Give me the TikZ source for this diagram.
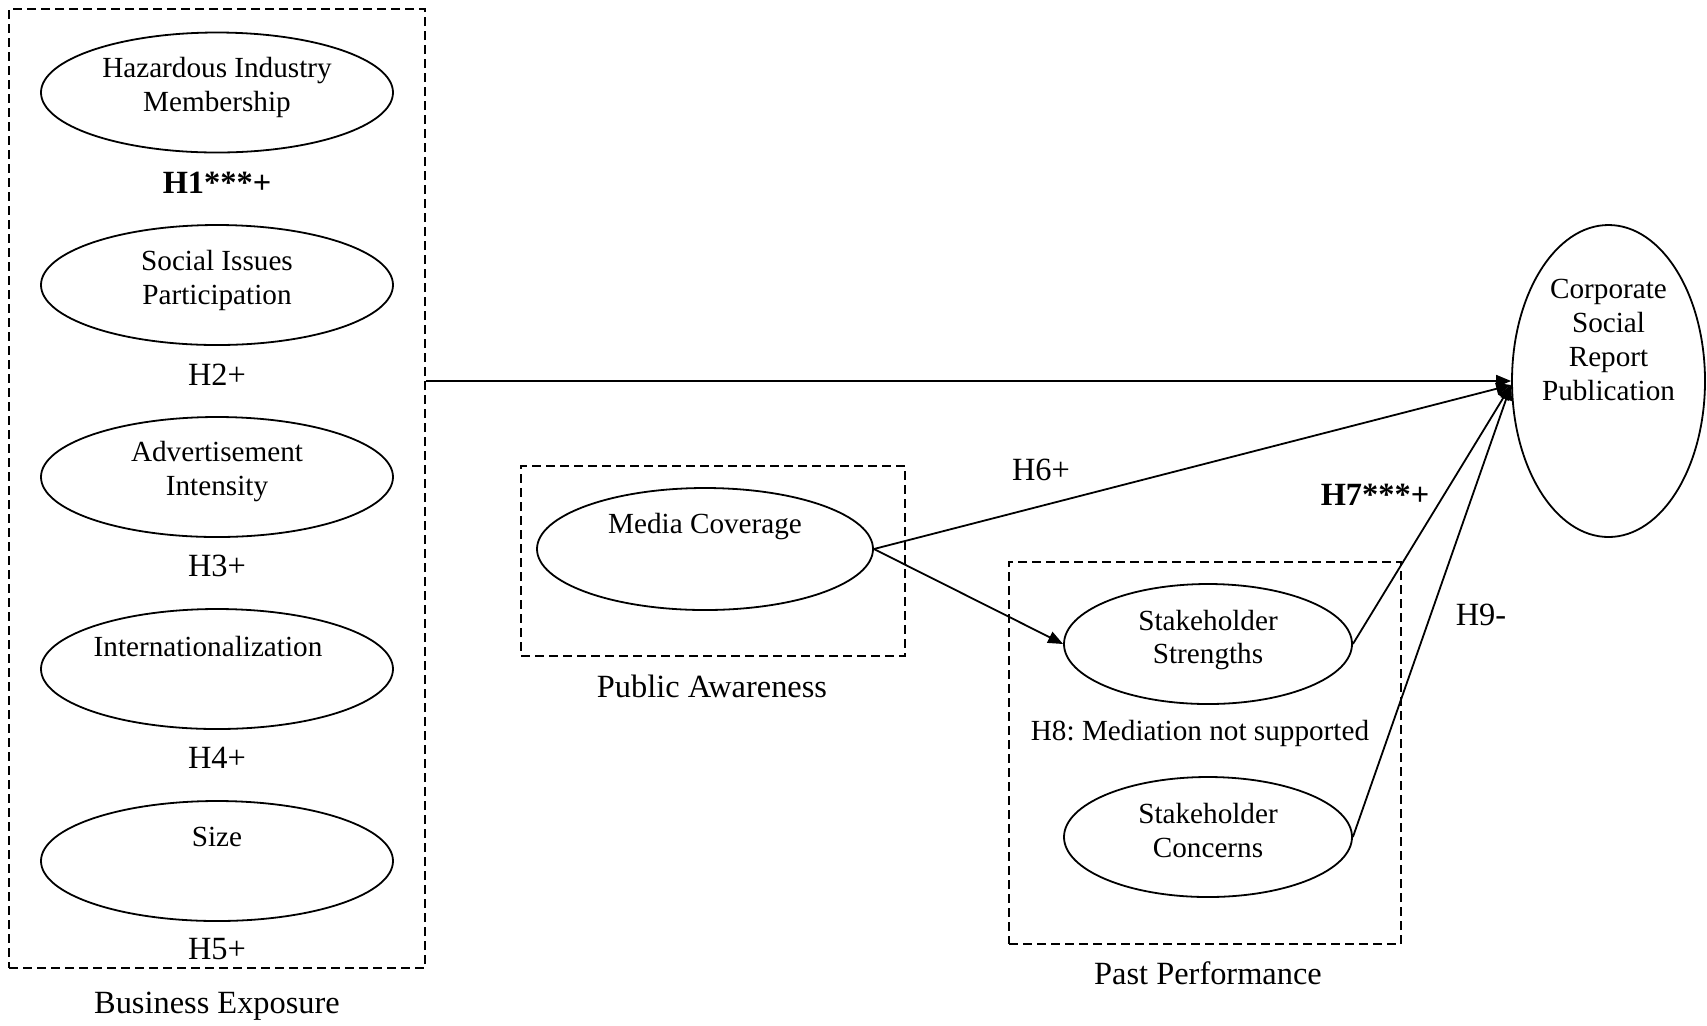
\documentclass[tikz,border=0pt]{standalone}
\usepackage{fontspec}
\setmainfont{Liberation Serif}
\usetikzlibrary{shapes.geometric,arrows.meta}
\begin{document}
\begin{tikzpicture}[x=0.5pt,y=-0.5pt,
  font=\fontsize{14.6}{17}\selectfont\frenchspacing,
  oval/.style={draw,ellipse,line width=0.9pt,inner sep=0pt},
  grp/.style={draw,rectangle,line width=0.9pt,dash pattern=on 4.5pt off 2.5pt,inner sep=0pt},
  txt/.style={align=center,inner sep=0pt},
  big/.style={align=center,inner sep=0pt,font=\fontsize{16.2}{19}\selectfont},
  conn/.style={line width=0.9pt,-{Triangle[length=7.5pt,width=6pt]}}]
\useasboundingbox (0,0) rectangle (1707,1025);
% group boxes
\node[grp,minimum width=208pt,minimum height=479.5pt] (be) at (217,488.5) {};
\node[grp,minimum width=191.75pt,minimum height=95.25pt] (pa) at (713,561) {};
\node[grp,minimum width=196pt,minimum height=191pt] (pp) at (1205,753) {};
% ellipses
\node[oval,minimum width=176pt,minimum height=60pt] (haz) at (217,92.5) {};
\node[oval,minimum width=176pt,minimum height=60pt] (soc) at (217,285) {};
\node[oval,minimum width=176pt,minimum height=60pt] (adv) at (217,477) {};
\node[oval,minimum width=176pt,minimum height=60pt] (int) at (217,669) {};
\node[oval,minimum width=176pt,minimum height=60pt] (siz) at (217,861) {};
\node[oval,minimum width=168pt,minimum height=61pt] (med) at (705,549) {};
\node[oval,minimum width=144pt,minimum height=60pt] (ss) at (1208,644) {};
\node[oval,minimum width=144pt,minimum height=60pt] (sc) at (1208,837) {};
\node[oval,minimum width=96.5pt,minimum height=156pt] (csr) at (1608.5,381) {};
% texts in ellipses
\node[txt] (thaz) at (217,87) {Hazardous Industry\\Membership};
\node[txt] (tsoc) at (217,280) {Social Issues\\Participation};
\node[txt] (tadv) at (217,472) {Advertisement\\Intensity};
\node[txt] (tint) at (208,646) {Internationalization};
\node[txt] (tsiz) at (217,837) {Size};
\node[txt] (tmed) at (705,527) {Media Coverage};
\node[txt] (tss) at (1208,640) {Stakeholder\\Strengths};
\node[txt] (tsc) at (1208,830) {Stakeholder\\Concerns};
\node[txt] (tcsr) at (1608.5,340) {Corporate\\Social\\Report\\Publication};
% labels
\node[big] (h1) at (217,183) {\textbf{H1***+}};
\node[big] (h2) at (217,375) {H2+};
\node[big] (h3) at (217,566) {H3+};
\node[big] (h4) at (217,758) {H4+};
\node[big] (h5) at (217,949) {H5+};
\node[big] (lbe) at (217,1006) {Business Exposure};
\node[big] (lpa) at (712,686) {Public Awareness};
\node[big] (lpp) at (1208,973) {Past Performance};
\node[big] (h6) at (1041,470) {H6+};
\node[big] (h7) at (1375,495) {\textbf{H7***+}};
\node[txt] (h8) at (1200,733) {H8: Mediation not supported};
\node[big] (h9) at (1481,615) {H9-};
% connectors
\coordinate (tip) at ([yshift=-2pt]csr.west);
\coordinate (bestart) at (be.east |- csr.west);
\draw[conn] (bestart) -- (csr.west);
\draw[conn] (med.east) -- (tip);
\draw[conn] (med.east) -- (ss.west);
\draw[conn] (ss.east) -- (tip);
\draw[conn] (sc.east) -- (tip);
\end{tikzpicture}
\end{document}
